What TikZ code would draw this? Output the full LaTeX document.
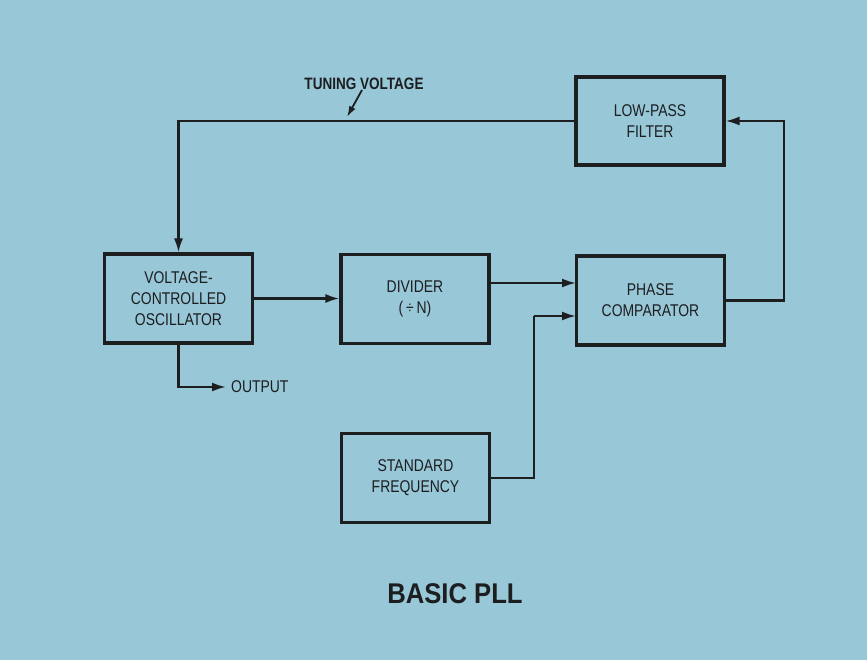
\documentclass[tikz,border=0pt]{standalone}
\usepackage{fontspec}
\setmainfont{Liberation Sans}[FakeStretch=0.9]
\newfontfamily\narrowfont{Liberation Sans}[FakeStretch=0.82]
\usetikzlibrary{arrows.meta}
\definecolor{bg}{RGB}{152,199,216}
\definecolor{ink}{RGB}{28,30,32}
\begin{document}
\begin{tikzpicture}[x=1pt,y=-1pt,
  blk/.style={draw=ink,line width=3.2pt,minimum width=148pt,minimum height=89pt,
    align=center,font=\narrowfont\fontsize{17}{21}\selectfont,text=ink,inner sep=0pt},
  conn/.style={draw=ink,line width=2.2pt},
  arr/.style={conn,-{Latex[length=14pt,width=9pt]}},
  lbl/.style={font=\narrowfont\fontsize{17}{21}\selectfont,text=ink,inner sep=0pt}]
\useasboundingbox[fill=bg] (0,0) rectangle (867,660);
% blocks
\node[blk] (vco) at (178.5,298.5) {VOLTAGE-\\CONTROLLED\\OSCILLATOR};
\node[blk] (div) at (415,299) {DIVIDER\\(\,÷\,N)};
\node[blk] (pc)  at (650.5,300.5) {PHASE\\COMPARATOR};
\node[blk,minimum height=88pt] (lpf) at (650,121) {LOW-PASS\\FILTER};
\node[blk] (sf)  at (415.5,478) {STANDARD\\FREQUENCY};
% labels
\node[lbl,font=\narrowfont\bfseries\fontsize{16.5}{20}\selectfont] (tv) at (364,84) {TUNING VOLTAGE};
\coordinate (tvtip) at (347,117);
\coordinate (out) at (226,387);
\node[lbl,anchor=west] (outl) at (231,387) {OUTPUT};
\node[lbl,font=\bfseries\fontsize{28.5}{32}\selectfont] (title) at (455,594) {BASIC PLL};
% connectors
\draw[arr] (lpf.west) -| (vco.north);
\draw[conn,-{Latex[length=11pt,width=7pt]},line width=1.8pt] ([xshift=-2pt]tv.south) -- (tvtip);
\draw[arr] (vco.east) -- (vco.east -| div.west);
\coordinate (in1) at (576,283);
\coordinate (in2) at (576,316);
\coordinate (j2) at (534,316);
\draw[arr] (div.east |- in1) -- (in1);
\draw[conn] (sf.east) -| (j2);
\draw[arr] (j2) -- (in2);
\draw[arr] (pc.east) -- ++(58,0) |- (lpf.east);
\draw[arr] (vco.south) |- (out);
\end{tikzpicture}
\end{document}
